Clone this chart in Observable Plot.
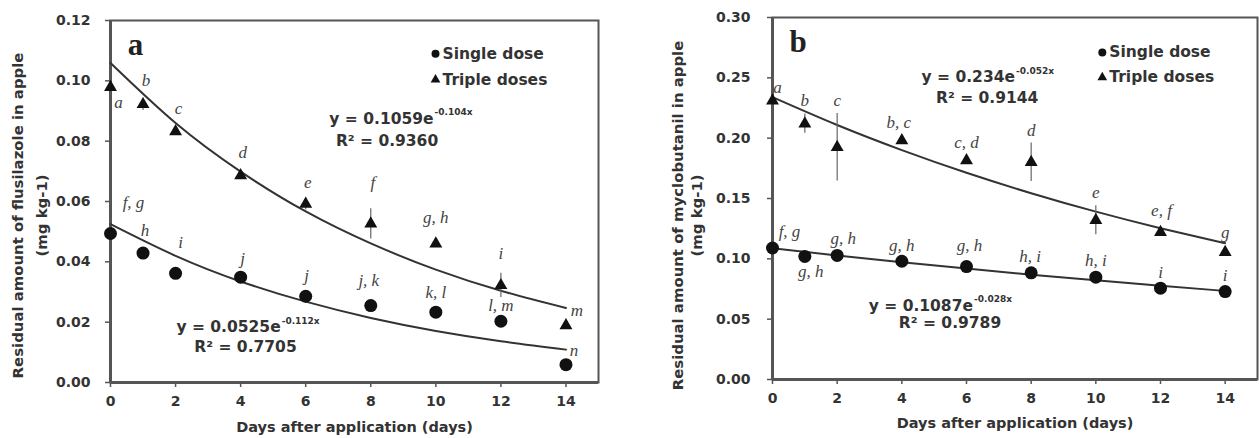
<!DOCTYPE html>
<html><head><meta charset="utf-8">
<script src="https://cdn.jsdelivr.net/npm/d3@7"></script>
<script src="https://cdn.jsdelivr.net/npm/@observablehq/plot@0.6"></script>
<style>
body{margin:0;background:#fff;}
#wrap{position:relative;width:1259px;height:438px;overflow:hidden;background:#fff;}
#wrap svg{position:absolute;top:0;}
</style></head><body><div id="wrap"></div>
<script>
// ---------- data ----------
const days = [0, 1, 2, 4, 6, 8, 10, 12, 14];
const xTicks = [0, 2, 4, 6, 8, 10, 12, 14];
const fitDays = [0, 2, 4, 6, 8, 10, 12, 14];
const legendLabels = ["Single dose", "Triple doses"];
const xTitle = "Days after application (days)";

// panel a: flusilazole
const flusTicks = [0, 0.02, 0.04, 0.06, 0.08, 0.10, 0.12];
const flusSingle = [0.0494, 0.0429, 0.0362, 0.0349, 0.0286, 0.0255, 0.0233, 0.0203, 0.0059];
const flusSingleErr = [0.001, 0.001, 0.001, 0.001, 0.001, 0.001, 0.001, 0.001, 0.001];
const flusTriple = [0.0979, 0.0922, 0.0832, 0.0686, 0.0592, 0.0526, 0.0460, 0.0322, 0.0189];
const flusTripleErr = [0.001, 0.002, 0.001, 0.001, 0.002, 0.005, 0.001, 0.004, 0.001];
const flusSingleLetters = ["f, g", "h", "i", "j", "j", "j, k", "k, l", "l, m", "n"];
const flusTripleLetters = ["a", "b", "c", "d", "e", "f", "g, h", "i", "m"];
const flusFitSingle = [0.0525, 0.0420, 0.0335, 0.0268, 0.0214, 0.0171, 0.0137, 0.0109];
const flusFitTriple = [0.1059, 0.0860, 0.0699, 0.0567, 0.0461, 0.0374, 0.0304, 0.0247];
const flusEqSingle = ["y = 0.0525e", "-0.112x", "R² = 0.7705"];
const flusEqTriple = ["y = 0.1059e", "-0.104x", "R² = 0.9360"];
const flusYTitle = ["Residual amount of flusilazole in apple", "(mg kg-1)"];

// panel b: myclobutanil
const mycTicks = [0, 0.05, 0.10, 0.15, 0.20, 0.25, 0.30];
const mycSingle = [0.109, 0.102, 0.1028, 0.098, 0.0936, 0.0884, 0.0848, 0.0757, 0.0729];
const mycSingleErr = [0.002, 0.001, 0.001, 0.001, 0.001, 0.001, 0.001, 0.001, 0.001];
const mycTriple = [0.231, 0.212, 0.1925, 0.198, 0.1815, 0.180, 0.132, 0.122, 0.1055];
const mycTripleErr = [0.003, 0.008, 0.028, 0.003, 0.002, 0.016, 0.012, 0.002, 0.002];
const mycSingleLetters = ["f, g", "g, h", "g, h", "g, h", "g, h", "h, i", "h, i", "i", "i"];
const mycTripleLetters = ["a", "b", "c", "b, c", "c, d", "d", "e", "e, f", "g"];
const mycFitSingle = [0.1087, 0.1028, 0.0972, 0.0919, 0.0869, 0.0822, 0.0777, 0.0734];
const mycFitTriple = [0.2340, 0.2109, 0.1901, 0.1713, 0.1544, 0.1391, 0.1254, 0.1130];
const mycEqSingle = ["y = 0.1087e", "-0.028x", "R² = 0.9789"];
const mycEqTriple = ["y = 0.234e", "-0.052x", "R² = 0.9144"];
const mycYTitle = ["Residual amount of myclobutanil in apple", "(mg kg-1)"];

// ---------- drawing ----------
const SANS = "DejaVu Sans";
const SERIF = "Liberation Serif";

function panel(o) {
  const H = 438;
  const pw = o.width - o.ml - o.mr, ph = H - o.mt - o.mb;
  const ux = 15 / pw, uy = o.ymax / ph; // data units per pixel
  const mk = (vals, errs, labs, offs) => days.map((d, i) => ({
    day: d, v: vals[i], e: errs[i], lab: labs[i],
    lx: d + offs[i][0] * ux, ly: vals[i] - offs[i][1] * uy
  }));
  const single = mk(o.single, o.singleErr, o.singleLab, o.singleOff);
  const triple = mk(o.triple, o.tripleErr, o.tripleLab, o.tripleOff);
  const fitS = fitDays.map((d, i) => ({day: d, v: o.fitSingle[i]}));
  const fitT = fitDays.map((d, i) => ({day: d, v: o.fitTriple[i]}));
  const eqMark = (eq, ex, ey, rx, ry) => [
    Plot.text([eq[0]], {x: () => ex, y: () => ey, text: d => d, textAnchor: "end", fontSize: 15.5, fill: "#333"}),
    Plot.text([eq[1]], {x: () => ex, y: () => ey, text: d => d, textAnchor: "start", fontSize: 9, dy: -6, dx: 1, fill: "#333"}),
    Plot.text([eq[2]], {x: () => rx, y: () => ry, text: d => d, textAnchor: "middle", fontSize: 15.5, fill: "#333"})
  ];
  return Plot.plot({
    width: o.width, height: H,
    marginLeft: o.ml, marginRight: o.mr, marginTop: o.mt, marginBottom: o.mb,
    x: {domain: [0, 15]},
    y: {domain: [0, o.ymax]},
    style: {fontFamily: SANS, fontWeight: "bold", color: "#333", background: "#fff", overflow: "visible"},
    marks: [
      Plot.frame({stroke: "#555", strokeWidth: 2}),
      Plot.axisY({ticks: o.yTicks, tickFormat: d3.format(".2f"), tickSize: 5, tickPadding: o.tickPadY, fontSize: 14, label: null, stroke: "#555", strokeWidth: 1.5}),
      Plot.axisX({ticks: xTicks, tickFormat: d3.format("d"), tickSize: 5, tickPadding: 9, fontSize: 14, label: null, stroke: "#555", strokeWidth: 1.5}),
      Plot.ruleX([0], {stroke: "#555", strokeWidth: 3}),
      Plot.ruleY([0], {stroke: "#555", strokeWidth: 3}),
      // fitted curves
      Plot.line(fitT, {x: "day", y: "v", curve: "natural", stroke: "#333", strokeWidth: 2}),
      Plot.line(fitS, {x: "day", y: "v", curve: "natural", stroke: "#333", strokeWidth: 2}),
      // error bars
      Plot.ruleX(triple, {x: "day", y1: d => d.v - d.e, y2: d => d.v + d.e, stroke: "#666", strokeWidth: 1.2}),
      Plot.ruleX(single, {x: "day", y1: d => d.v - d.e, y2: d => d.v + d.e, stroke: "#666", strokeWidth: 1.2}),
      // points
      Plot.dot(single, {x: "day", y: "v", r: 6.5, fill: "#111", stroke: "none"}),
      Plot.dot(triple, {x: "day", y: "v", r: 4.8, symbol: "triangle", fill: "#111", stroke: "none"}),
      // significance letters
      Plot.text(triple, {x: "lx", y: "ly", text: "lab", fontFamily: SERIF, fontStyle: "italic", fontWeight: "normal", fontSize: 17, fill: "#444"}),
      Plot.text(single, {x: "lx", y: "ly", text: "lab", fontFamily: SERIF, fontStyle: "italic", fontWeight: "normal", fontSize: 17, fill: "#444"}),
      // equations
      ...eqMark(o.eqTriple, ...o.eqTriplePos),
      ...eqMark(o.eqSingle, ...o.eqSinglePos),
      // legend
      Plot.dot([legendLabels[0]], {x: () => o.legX, y: () => o.legY[0], r: 4, fill: "#111", stroke: "none"}),
      Plot.dot([legendLabels[1]], {x: () => o.legX, y: () => o.legY[1], r: 3.6, symbol: "triangle", fill: "#111", stroke: "none"}),
      Plot.text(legendLabels, {x: () => o.legX, y: (d, i) => o.legY[i], text: d => d, textAnchor: "start", dx: 7, fontSize: 15.5, fill: "#333"}),
      // panel letter
      Plot.text([o.letter], {x: () => o.letterPos[0], y: () => o.letterPos[1], text: d => d, fontFamily: SERIF, fontWeight: "bold", fontSize: 31, fill: "#222"}),
      // axis titles
      Plot.text([xTitle], {frameAnchor: "bottom", text: d => d, textAnchor: "middle", lineAnchor: "middle", dy: o.xTitleDy, fontSize: 14.5, fill: "#333"}),
      Plot.text([o.yTitle[0]], {frameAnchor: "left", text: d => d, textAnchor: "middle", lineAnchor: "middle", rotate: -90, dx: o.yTitleDx[0], dy: o.yTitleDy, fontSize: 14.9, fill: "#333"}),
      Plot.text([o.yTitle[1]], {frameAnchor: "left", text: d => d, textAnchor: "middle", lineAnchor: "middle", rotate: -90, dx: o.yTitleDx[1], dy: o.yTitleDy, fontSize: 14.9, fill: "#333"})
    ]
  });
}

const svgA = panel({
  width: 630, ml: 110, mr: 32, mt: 20, mb: 56, ymax: 0.12, yTicks: flusTicks, tickPadY: 15,
  single: flusSingle, singleErr: flusSingleErr, singleLab: flusSingleLetters,
  triple: flusTriple, tripleErr: flusTripleErr, tripleLab: flusTripleLetters,
  singleOff: [[23,-31],[2,-23],[5,-31],[2,-19],[1,-21],[-2,-25],[0,-20],[0,-16],[8,-14]],
  tripleOff: [[8,15],[3,-24],[3,-23],[2,-23],[2,-21],[2,-41],[0,-26],[0,-32],[11,-15]],
  fitSingle: flusFitSingle, fitTriple: flusFitTriple,
  eqTriple: flusEqTriple, eqTriplePos: [9.93, 0.0875, 8.5, 0.0802],
  eqSingle: flusEqSingle, eqSinglePos: [5.23, 0.0183, 4.15, 0.0117],
  legX: 9.99, legY: [0.109, 0.1004],
  letter: "a", letterPos: [0.77, 0.1117],
  xTitleDy: 45, yTitle: flusYTitle, yTitleDx: [-92, -68], yTitleDy: 14
});
const svgB = panel({
  width: 629, ml: 142, mr: 2, mt: 17, mb: 59, ymax: 0.30, yTicks: mycTicks, tickPadY: 17,
  single: mycSingle, singleErr: mycSingleErr, singleLab: mycSingleLetters,
  triple: mycTriple, tripleErr: mycTripleErr, tripleLab: mycTripleLetters,
  singleOff: [[17,-16],[6,15],[6,-17],[0,-16],[3,-21],[-1,-16],[0,-17],[0,-16],[0,-16]],
  tripleOff: [[5,-13],[0,-23],[0,-47],[-3,-18],[0,-18],[0,-32],[0,-28],[1,-22],[0,-20]],
  fitSingle: mycFitSingle, fitTriple: mycFitTriple,
  eqTriple: mycEqTriple, eqTriplePos: [7.5, 0.2503, 6.64, 0.2329],
  eqSingle: mycEqSingle, eqSinglePos: [6.2, 0.0613, 5.49, 0.0464],
  legX: 10.2, legY: [0.271, 0.2503],
  letter: "b", letterPos: [0.79, 0.2795],
  xTitleDy: 44, yTitle: mycYTitle, yTitleDx: [-94, -75], yTitleDy: 17
});
svgA.style.left = "0px";
svgB.style.left = "630px";
const wrap = document.getElementById("wrap");
wrap.appendChild(svgA);
wrap.appendChild(svgB);
</script>
</body></html>
